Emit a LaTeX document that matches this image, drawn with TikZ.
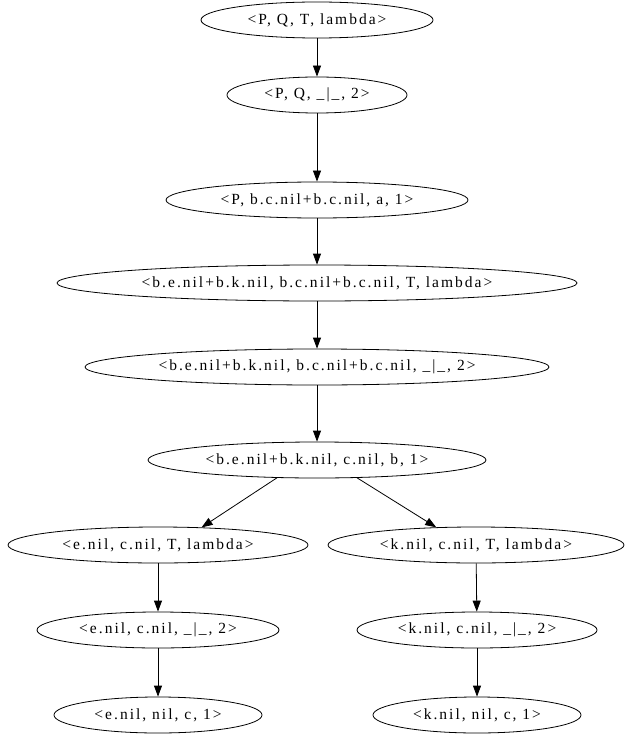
\documentclass[tikz,border=0pt]{standalone}
\usepackage{fontspec}
\newfontfamily\gvfont[LetterSpace=13]{Liberation Serif}
\usetikzlibrary{shapes.geometric,arrows.meta}
\tikzset{
  gvnode/.style={ellipse, draw, line width=0.8pt, inner sep=0pt, minimum height=36pt,
    font=\gvfont\fontsize{15.5}{18}\selectfont},
  gvedge/.style={line width=0.8pt, -{Triangle[length=11pt,width=8pt]}}
}
\begin{document}
\begin{tikzpicture}[x=1pt,y=-1pt]
\useasboundingbox (0,0) rectangle (624,738);
\node[gvnode, minimum width=232pt] (n1) at (317,20) {<P, Q, T, lambda>};
\node[gvnode, minimum width=180pt] (n2) at (317,95) {<P, Q, \_|\_, 2>};
\node[gvnode, minimum width=302pt] (n3) at (317,200) {<P, b.c.nil+b.c.nil, a, 1>};
\node[gvnode, minimum width=520pt] (n4) at (317,283) {<b.e.nil+b.k.nil, b.c.nil+b.c.nil, T, lambda>};
\node[gvnode, minimum width=464pt] (n5) at (317,367) {<b.e.nil+b.k.nil, b.c.nil+b.c.nil, \_|\_, 2>};
\node[gvnode, minimum width=338pt] (n6) at (317,460) {<b.e.nil+b.k.nil, c.nil, b, 1>};
\node[gvnode, minimum width=300pt] (n7l) at (158,545) {<e.nil, c.nil, T, lambda>};
\node[gvnode, minimum width=296pt] (n7r) at (476,545) {<k.nil, c.nil, T, lambda>};
\node[gvnode, minimum width=242pt] (n8l) at (158,630) {<e.nil, c.nil, \_|\_, 2>};
\node[gvnode, minimum width=240pt] (n8r) at (477,630) {<k.nil, c.nil, \_|\_, 2>};
\node[gvnode, minimum width=208pt] (n9l) at (158,715) {<e.nil, nil, c, 1>};
\node[gvnode, minimum width=208pt] (n9r) at (477,715) {<k.nil, nil, c, 1>};
\draw[gvedge] (n1) -- (n2);
\draw[gvedge] (n2) -- (n3);
\draw[gvedge] (n3) -- (n4);
\draw[gvedge] (n4) -- (n5);
\draw[gvedge] (n5) -- (n6);
\draw[gvedge] (n6.204) -- (n7l.22);
\draw[gvedge] (n6.336) -- (n7r.156);
\draw[gvedge] (n7l) -- (n8l);
\draw[gvedge] (n8l) -- (n9l);
\draw[gvedge] (n7r) -- (n8r);
\draw[gvedge] (n8r) -- (n9r);
\end{tikzpicture}
\end{document}
